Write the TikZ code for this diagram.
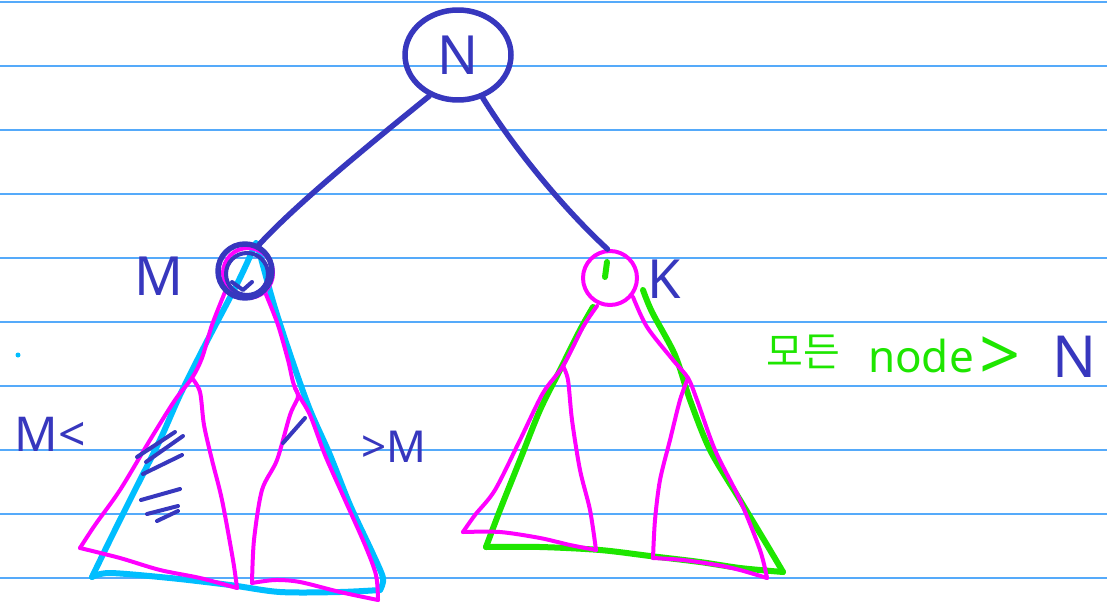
\documentclass[tikz,border=0pt]{standalone}
\usepackage{fontspec}
\setmainfont{Noto Sans}
\newfontfamily\kr{Noto Sans CJK KR}
\usetikzlibrary{shapes.geometric}
\definecolor{ink}{RGB}{55,55,190}
\definecolor{cy}{RGB}{0,190,255}
\definecolor{mg}{RGB}{255,0,255}
\definecolor{gr}{RGB}{30,230,0}
\definecolor{rulec}{RGB}{85,170,250}
\begin{document}
\begin{tikzpicture}[x=1pt,y=-1pt, line cap=round, line join=round,
  ruleline/.style={draw=rulec, line width=1.4pt},
  inkline/.style={draw=ink, line width=5.5pt},
  cyline/.style={draw=cy, line width=6pt},
  mgline/.style={draw=mg, line width=4pt},
  grline/.style={draw=gr, line width=6pt},
  hatch/.style={draw=ink, line width=4pt},
  lbl/.style={text=ink, inner sep=0pt, font=\fontsize{54}{56}\selectfont},
]
\useasboundingbox (0,0) rectangle (1107,605);
\fill[white] (0,0) rectangle (1107,605);
\foreach \y in {2,66,...,578} \draw[ruleline] (0,\y) -- (1107,\y);

% cyan subtree of M
\draw[cyline] plot[smooth, tension=0.5] coordinates {(256,243) (238,282) (205,345) (180,395) (160,440) (135,490) (110,540) (92,577)};
\draw[cyline] plot[smooth, tension=0.5] coordinates {(92,577) (110,573) (170,578) (230,585) (280,592) (340,592) (380,590)};
\draw[cyline] plot[smooth, tension=0.5] coordinates {(380,590) (383,578) (372,552) (350,505) (330,455) (310,410) (292,360) (274,305) (258,247)};

% magenta subtrees of M
\draw[mgline] plot[smooth, tension=0.5] coordinates {(225,292) (212,325) (202,358) (192,378) (175,400) (150,440) (120,490) (95,525) (80,548)};
\draw[mgline] plot[smooth, tension=0.5] coordinates {(80,548) (120,558) (160,570) (200,578) (237,588)};
\draw[mgline] plot[smooth, tension=0.5] coordinates {(237,588) (233,560) (222,500) (212,460) (204,425) (200,392) (192,378)};
\draw[mgline] plot[smooth, tension=0.5] coordinates {(265,292) (278,325) (288,360) (295,388) (310,415) (325,455) (345,500) (365,545) (376,575) (378,600)};
\draw[mgline] plot[smooth, tension=0.5] coordinates {(378,600) (340,592) (300,582) (275,580) (252,583)};
\draw[mgline] plot[smooth, tension=0.5] coordinates {(252,583) (254,540) (262,490) (277,460) (290,415) (298,397) (295,388)};

% green subtree of K
\draw[grline] plot[smooth, tension=0.5] coordinates {(593,307) (580,330) (560,370) (540,410) (520,460) (500,510) (486,547)};
\draw[grline] plot[smooth, tension=0.5] coordinates {(486,547) (540,547) (600,550) (650,556) (700,562) (740,568) (783,572)};
\draw[grline] plot[smooth, tension=0.5] coordinates {(783,572) (770,550) (740,500) (710,450) (690,400) (675,355) (652,312) (643,290)};
\draw[grline] (607,262) -- (605,277);

% magenta subtrees of K
\draw[mgline] plot[smooth, tension=0.5] coordinates {(597,306) (583,327) (563,366) (543,393) (520,440) (495,490) (475,515) (463,532)};
\draw[mgline] plot[smooth, tension=0.5] coordinates {(463,532) (500,532) (540,538) (570,545) (596,550)};
\draw[mgline] plot[smooth, tension=0.5] coordinates {(596,550) (590,510) (580,470) (572,420) (568,380) (563,366)};
\draw[mgline] plot[smooth, tension=0.5] coordinates {(633,297) (647,327) (673,360) (688,378) (697,400) (715,450) (740,500) (760,550) (767,578)};
\draw[mgline] plot[smooth, tension=0.5] coordinates {(767,578) (740,570) (717,565) (683,560) (653,558)};
\draw[mgline] plot[smooth, tension=0.5] coordinates {(653,558) (655,520) (660,480) (670,440) (680,400) (688,378)};

% hatch strokes
\draw[hatch] (137,457) -- (175,432);
\draw[hatch] (146,462) -- (183,436);
\draw[hatch] (143,474) -- (182,455);
\draw[hatch] (141,500) -- (180,489);
\draw[hatch] (147,514) -- (178,506);
\draw[hatch] (157,521) -- (178,511);
\draw[hatch] (283,443) -- (305,418);

% cyan dot
\fill[cy] (18,355) circle (2.5);

% nodes
\node[ellipse, inkline, minimum width=106pt, minimum height=90pt, lbl] (N) at (458,55) {N};
\node[circle, mgline, minimum size=50pt, inner sep=0pt] (Mm) at (248,273) {};
\node[circle, inkline, minimum size=54pt, inner sep=0pt] (M) at (245,271) {};
\draw[ink, line width=4pt] (247,274) circle (21);
\draw[hatch] (232,282) -- (243,290) -- (252,282);
\node[circle, mgline, minimum size=54pt, inner sep=0pt] (K) at (610,278) {};

% connectors
\draw[inkline] (N.235) .. controls (385,132) and (300,200) .. (M.62);
\draw[inkline] (N.300) .. controls (515,150) and (565,210) .. (K.95);

% labels
\node[lbl] (Ml) at (159,276) {M};
\node[lbl] (Kl) at (664,279) {K};
\node[lbl, font=\fontsize{48}{50}\selectfont] (Mlt) at (50,434) {M<};
\node[lbl, font=\fontsize{44}{46}\selectfont] (Mgt) at (394,447) {>M};
\node[inner sep=0pt, text=gr, font=\kr\fontsize{40}{42}\selectfont] (all) at (803,352) {모든};
\node[inner sep=0pt, text=gr, font=\fontsize{44}{46}\selectfont] (nd) at (921,356) {node};
\node[inner sep=0pt, text=gr, font=\fontsize{72}{74}\selectfont] (gt) at (1000,359) {>};
\node[lbl, font=\fontsize{58}{60}\selectfont] (Nr) at (1075,357) {N};
\end{tikzpicture}
\end{document}
